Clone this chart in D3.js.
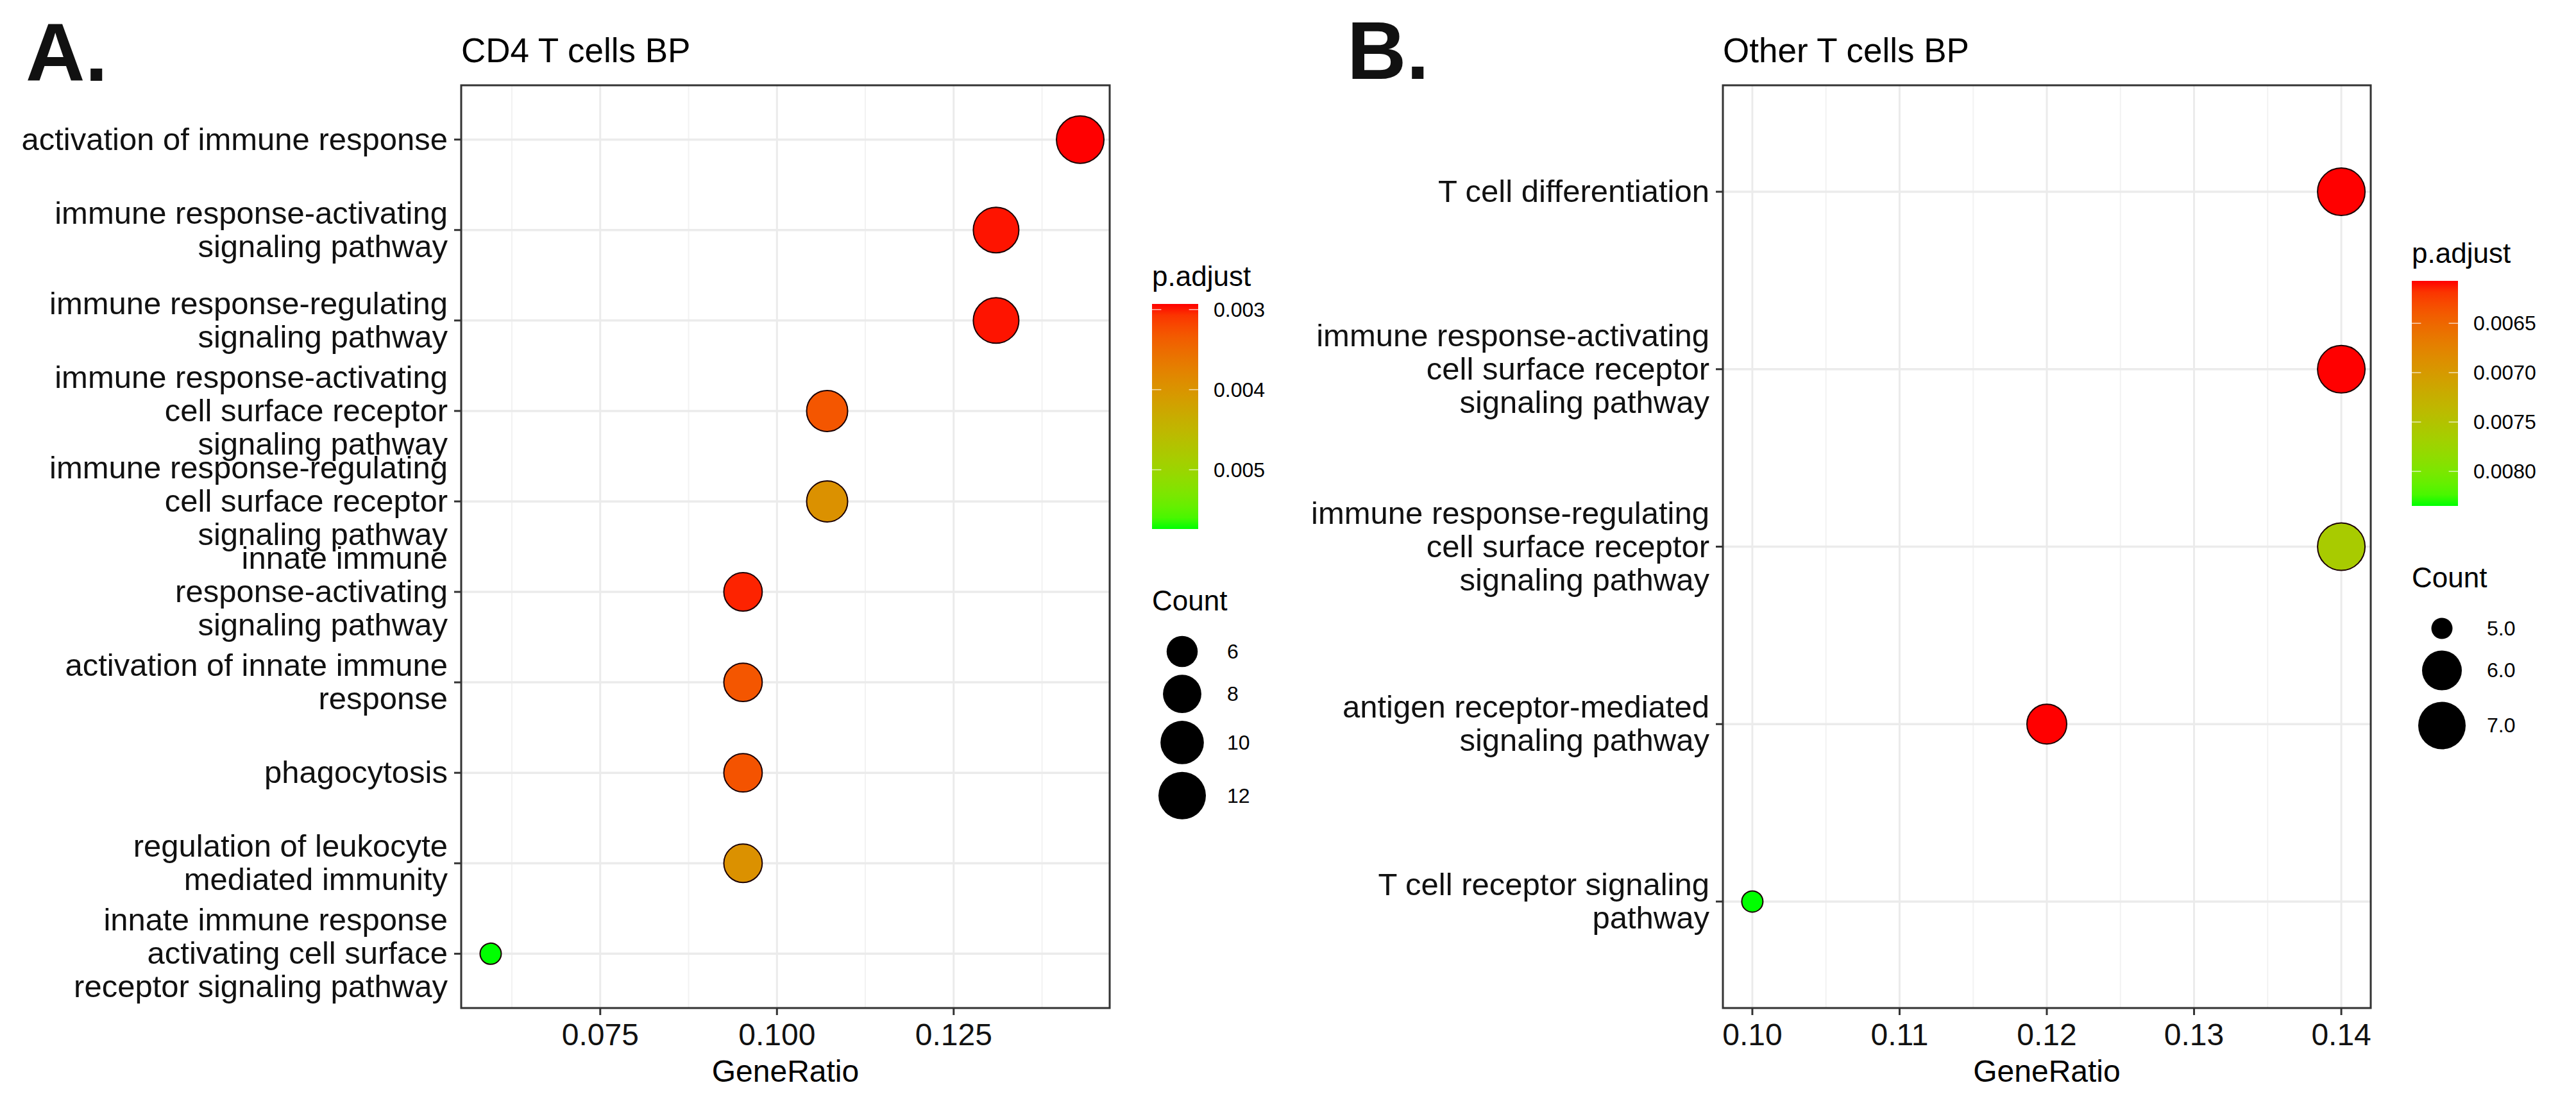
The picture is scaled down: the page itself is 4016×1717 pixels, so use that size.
<!DOCTYPE html>
<html>
<head>
<meta charset="utf-8">
<script src="https://cdn.jsdelivr.net/npm/d3@7"></script>
<style>
  body { margin: 0; background: #fff; }
  svg { display: block; font-family: "Liberation Sans", Arial, sans-serif; }
</style>
</head>
<body>
<div id="chart"></div>
<script>
// Panel A - CD4 T cells BP
const termsA = [
  'activation of immune response',
  'immune response-activating\nsignaling pathway',
  'immune response-regulating\nsignaling pathway',
  'immune response-activating\ncell surface receptor\nsignaling pathway',
  'immune response-regulating\ncell surface receptor\nsignaling pathway',
  'innate immune\nresponse-activating\nsignaling pathway',
  'activation of innate immune\nresponse',
  'phagocytosis',
  'regulation of leukocyte\nmediated immunity',
  'innate immune response\nactivating cell surface\nreceptor signaling pathway'
];
const ratioA = [0.1429, 0.1310, 0.1310, 0.1071, 0.1071, 0.0952, 0.0952, 0.0952, 0.0952, 0.0595];
const countA = [12, 11, 11, 9, 9, 8, 8, 8, 8, 5];
const padjA = [0.00293, 0.00296, 0.00296, 0.00330, 0.00395, 0.00300, 0.00330, 0.00328, 0.00395, 0.00574];
const xTicksA = [0.075, 0.100, 0.125];
const colorTicksA = [0.003, 0.004, 0.005];
const sizeTicksA = [6, 8, 10, 12];

// Panel B - Other T cells BP
const termsB = [
  'T cell differentiation',
  'immune response-activating\ncell surface receptor\nsignaling pathway',
  'immune response-regulating\ncell surface receptor\nsignaling pathway',
  'antigen receptor-mediated\nsignaling pathway',
  'T cell receptor signaling\npathway'
];
const ratioB = [0.14, 0.14, 0.14, 0.12, 0.10];
const countB = [7, 7, 7, 6, 5];
const padjB = [0.00607, 0.00607, 0.00762, 0.00607, 0.00835];
const xTicksB = [0.10, 0.11, 0.12, 0.13, 0.14];
const colorTicksB = [0.0065, 0.0070, 0.0075, 0.0080];
const sizeTicksB = [5, 6, 7];

const W = 4016, H = 1717;
const svg = d3.select('#chart').append('svg')
  .attr('width', W).attr('height', H);
svg.append('rect').attr('width', W).attr('height', H).attr('fill', '#fff');

const defs = svg.append('defs');

function drawPanel(cfg) {
  const g = svg.append('g');
  const {left, right, top, bottom} = cfg;

  // x scale with ggplot style 5% expansion
  const [xmin, xmax] = d3.extent(cfg.ratio);
  const pad = (xmax - xmin) * 0.05;
  const x = d3.scaleLinear().domain([xmin - pad, xmax + pad]).range([left, right]);
  const y = d3.scalePoint().domain(cfg.terms).range([top, bottom]).padding(0.6);

  // p.adjust colour: red (low) to green (high), Lab interpolation
  const pExt = d3.extent(cfg.padj);
  const color = d3.scaleLinear().domain(pExt).range(['#FF0000', '#00FF00']).interpolate(d3.interpolateLab);

  // Count -> radius (area palette, like scale_size)
  const cExt = d3.extent(cfg.count);
  const cNorm = d3.scaleLinear().domain(cExt).range([0, 1]);
  const rad = d3.scaleLinear().domain([0, 1]).range([16.5, 37]);
  const r = c => rad(Math.sqrt(cNorm(c)));

  // grid: minor then major
  const step = cfg.xTicks[1] - cfg.xTicks[0];
  const minor = [];
  for (let v = cfg.xTicks[0] - step / 2; v <= x.domain()[1]; v += step) {
    if (v >= x.domain()[0]) minor.push(v);
  }
  g.append('g').selectAll('line').data(minor).join('line')
    .attr('x1', d => x(d)).attr('x2', d => x(d))
    .attr('y1', top).attr('y2', bottom)
    .attr('stroke', '#F2F2F2').attr('stroke-width', 2);
  g.append('g').selectAll('line').data(cfg.xTicks).join('line')
    .attr('x1', d => x(d)).attr('x2', d => x(d))
    .attr('y1', top).attr('y2', bottom)
    .attr('stroke', '#EBEBEB').attr('stroke-width', 3);
  g.append('g').selectAll('line').data(cfg.terms).join('line')
    .attr('x1', left).attr('x2', right)
    .attr('y1', d => y(d)).attr('y2', d => y(d))
    .attr('stroke', '#EBEBEB').attr('stroke-width', 3.5);

  // points
  const rows = cfg.terms.map((t, i) => ({term: t, ratio: cfg.ratio[i], count: cfg.count[i], padj: cfg.padj[i]}));
  g.append('g').selectAll('circle').data(rows).join('circle')
    .attr('cx', d => x(d.ratio))
    .attr('cy', d => y(d.term))
    .attr('r', d => r(d.count))
    .attr('fill', d => color(d.padj))
    .attr('stroke', '#1a0000')
    .attr('stroke-width', 2);

  // panel border
  g.append('rect')
    .attr('x', left).attr('y', top)
    .attr('width', right - left).attr('height', bottom - top)
    .attr('fill', 'none').attr('stroke', '#333').attr('stroke-width', 3);

  // y axis ticks + labels
  const yAx = g.append('g');
  yAx.selectAll('line').data(cfg.terms).join('line')
    .attr('x1', left - 11).attr('x2', left)
    .attr('y1', d => y(d)).attr('y2', d => y(d))
    .attr('stroke', '#333').attr('stroke-width', 3);
  const lh = 52;
  yAx.selectAll('text').data(cfg.terms).join('text')
    .attr('text-anchor', 'end')
    .attr('font-size', 49)
    .attr('fill', '#111')
    .each(function(d) {
      const lines = d.split('\n');
      const y0 = y(d) - (lines.length - 1) / 2 * lh + 16;
      d3.select(this).selectAll('tspan').data(lines).join('tspan')
        .attr('x', left - 21)
        .attr('y', (l, i) => y0 + i * lh)
        .text(l => l);
    });

  // x axis ticks + labels
  const xAx = g.append('g');
  xAx.selectAll('line').data(cfg.xTicks).join('line')
    .attr('x1', d => x(d)).attr('x2', d => x(d))
    .attr('y1', bottom).attr('y2', bottom + 11)
    .attr('stroke', '#333').attr('stroke-width', 3);
  xAx.selectAll('text').data(cfg.xTicks).join('text')
    .attr('x', d => x(d)).attr('y', bottom + 58)
    .attr('text-anchor', 'middle')
    .attr('font-size', 48).attr('fill', '#111')
    .text(d => d3.format(cfg.xFmt)(d));
  g.append('text')
    .attr('x', (left + right) / 2).attr('y', 1687)
    .attr('text-anchor', 'middle')
    .attr('font-size', 48).attr('fill', '#000')
    .text('GeneRatio');

  // title and panel letter
  g.append('text')
    .attr('x', left).attr('y', 97)
    .attr('font-size', 53).attr('fill', '#000')
    .text(cfg.title);
  g.append('text')
    .attr('x', cfg.letterX).attr('y', cfg.letterY)
    .attr('font-size', 128).attr('font-weight', 'bold').attr('fill', '#111')
    .text(cfg.letter);

  // colourbar legend
  const lg = g.append('g');
  const lx = cfg.legendLeft;
  const barW = 72;
  lg.append('text')
    .attr('x', lx).attr('y', cfg.legendTop)
    .attr('font-size', 44).attr('fill', '#000')
    .text('p.adjust');
  const barTop = cfg.legendTop + 28;
  const barBottom = barTop + 351;
  const gradId = 'grad' + cfg.letter.replace('.', '');
  const grad = defs.append('linearGradient').attr('id', gradId)
    .attr('x1', 0).attr('y1', 0).attr('x2', 0).attr('y2', 1);
  grad.selectAll('stop').data(d3.range(0, 1.0001, 0.05)).join('stop')
    .attr('offset', d => d)
    .attr('stop-color', d => color(pExt[0] + d * (pExt[1] - pExt[0])));
  lg.append('rect')
    .attr('x', lx).attr('y', barTop)
    .attr('width', barW).attr('height', barBottom - barTop)
    .attr('fill', `url(#${gradId})`);
  const cy = d3.scaleLinear().domain(pExt).range([barTop, barBottom]);
  lg.selectAll('line.tl').data(cfg.colorTicks).join('line')
    .attr('class', 'tl')
    .attr('x1', lx).attr('x2', lx + barW / 5)
    .attr('y1', d => cy(d)).attr('y2', d => cy(d))
    .attr('stroke', '#fff').attr('stroke-opacity', 0.7).attr('stroke-width', 1.5);
  lg.selectAll('line.tr').data(cfg.colorTicks).join('line')
    .attr('class', 'tr')
    .attr('x1', lx + barW * 4 / 5).attr('x2', lx + barW)
    .attr('y1', d => cy(d)).attr('y2', d => cy(d))
    .attr('stroke', '#fff').attr('stroke-opacity', 0.7).attr('stroke-width', 1.5);
  lg.selectAll('text.cl').data(cfg.colorTicks).join('text')
    .attr('class', 'cl')
    .attr('x', lx + barW + 24).attr('y', d => cy(d) + 11)
    .attr('font-size', 32).attr('fill', '#000')
    .text(d => d3.format(cfg.colorFmt)(d));

  // size legend
  const countTitleY = barBottom + 127;
  lg.append('text')
    .attr('x', lx).attr('y', countTitleY)
    .attr('font-size', 44).attr('fill', '#000')
    .text('Count');
  const keyCx = lx + 47;
  const keys = [];
  let cyKey = countTitleY + 64;
  cfg.sizeTicks.forEach((c, i) => {
    if (i > 0) cyKey += r(cfg.sizeTicks[i - 1]) + r(c) + cfg.keyGap;
    keys.push({c, y: cyKey});
  });
  lg.selectAll('circle').data(keys).join('circle')
    .attr('cx', keyCx).attr('cy', d => d.y)
    .attr('r', d => r(d.c))
    .attr('fill', '#000');
  lg.selectAll('text.sl').data(keys).join('text')
    .attr('class', 'sl')
    .attr('x', lx + 117).attr('y', d => d.y + 11)
    .attr('font-size', 32).attr('fill', '#000')
    .text(d => d3.format(cfg.sizeFmt)(d.c));
}

drawPanel({
  terms: termsA, ratio: ratioA, count: countA, padj: padjA,
  xTicks: xTicksA, xFmt: '.3f', colorTicks: colorTicksA, colorFmt: '.3f',
  sizeTicks: sizeTicksA, sizeFmt: 'd', keyGap: 12,
  left: 719, right: 1730, top: 133, bottom: 1572,
  title: 'CD4 T cells BP', letter: 'A.', letterX: 40, letterY: 126,
  legendLeft: 1796, legendTop: 446
});

drawPanel({
  terms: termsB, ratio: ratioB, count: countB, padj: padjB,
  xTicks: xTicksB, xFmt: '.2f', colorTicks: colorTicksB, colorFmt: '.4f',
  sizeTicks: sizeTicksB, sizeFmt: '.1f', keyGap: 18,
  left: 2686, right: 3696, top: 133, bottom: 1572,
  title: 'Other T cells BP', letter: 'B.', letterX: 2100, letterY: 123,
  legendLeft: 3760, legendTop: 410
});
</script>
</body>
</html>
